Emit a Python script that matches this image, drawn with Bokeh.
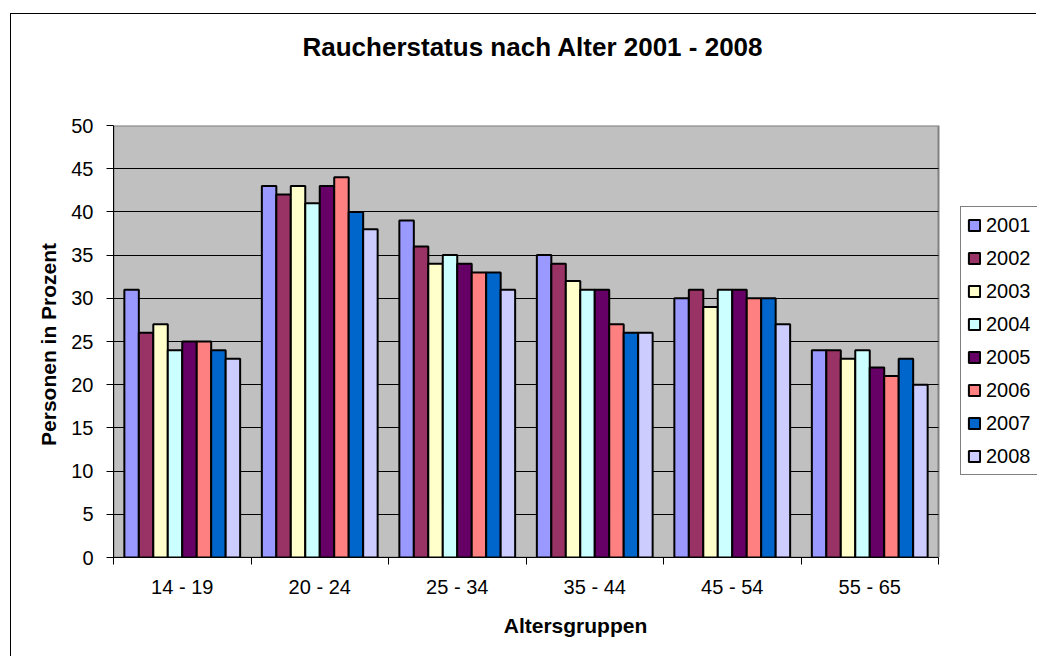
from bokeh.plotting import figure
from bokeh.models import (Range1d, LinearAxis, FixedTicker, Legend,
                          LegendItem, ColumnDataSource)
from bokeh.transform import dodge
from bokeh.embed import file_html
from bokeh.resources import INLINE

# ---- data ----
categories = ["14 - 19", "20 - 24", "25 - 34", "35 - 44", "45 - 54", "55 - 65"]
years = ["2001", "2002", "2003", "2004", "2005", "2006", "2007", "2008"]
v2001 = [31, 43, 39, 35, 30, 24]
v2002 = [26, 42, 36, 34, 31, 24]
v2003 = [27, 43, 34, 32, 29, 23]
v2004 = [24, 41, 35, 31, 31, 24]
v2005 = [25, 43, 34, 31, 31, 22]
v2006 = [25, 44, 33, 27, 30, 21]
v2007 = [24, 40, 33, 26, 30, 23]
v2008 = [23, 38, 31, 26, 27, 20]
colors = ["#9999FF", "#993366", "#FFFFCC", "#CCFFFF", "#660066", "#FF8080", "#0066CC", "#CCCCFF"]
y_ticks = [0, 5, 10, 15, 20, 25, 30, 35, 40, 45, 50]
title_text = "Raucherstatus nach Alter 2001 - 2008"

series = [v2001, v2002, v2003, v2004, v2005, v2006, v2007, v2008]
ncat = len(categories)
centers = [i + 0.5 for i in range(ncat)]
edges = [float(i) for i in range(ncat + 1)]
data = {"cat": categories, "xc": centers}
for y, s in zip(years, series):
    data["y" + y] = s
source = ColumnDataSource(data)

FONT = "Liberation Sans"
# layout (pixels)
W, H = 1026, 643
LEFT, TOP, BOTTOM = 102, 111, 100
PLOT_W = 825                       # width of the grey plot area
FRAME_W = W - LEFT                 # frame runs to the right edge (legend lives there)
x_end = ncat * FRAME_W / PLOT_W
y_min, y_max = y_ticks[0], y_ticks[-1]

p = figure(width=W, height=H,
           x_range=Range1d(0, x_end),
           y_range=Range1d(y_min, y_max),
           output_backend="svg", toolbar_location=None,
           x_axis_location=None,
           min_border_left=LEFT, min_border_right=0,
           min_border_top=TOP, min_border_bottom=BOTTOM)
p.styles = {"margin-left": "10px", "margin-top": "13px",
            "border-left": "1px solid black", "border-top": "1px solid black"}

p.background_fill_color = "white"
p.border_fill_color = "white"
p.outline_line_color = None

# title (outermost element above the frame)
p.title.text = title_text
p.title.align = "left"
p.title.offset = 189
p.title.standoff = 10
p.title.text_font = FONT
p.title.text_font_size = "26px"
p.title.text_font_style = "bold"
p.title.text_color = "black"

# spacer axis between title and plot area; its height comes from a blank label
sp = LinearAxis(ticker=FixedTicker(ticks=[]))
sp.axis_line_color = None
sp.major_tick_line_color = None
sp.minor_tick_line_color = None
sp.major_tick_out = 0
sp.major_tick_in = 0
sp.major_label_text_font_size = "0px"
sp.axis_label = "\u00a0"
sp.axis_label_text_font = FONT
sp.axis_label_text_font_size = "10px"
sp.axis_label_text_color = "white"
sp.axis_label_standoff = 45
p.add_layout(sp, "above")

# grey plot area
p.quad(left=[0], right=[ncat], bottom=[y_min], top=[y_max],
       fill_color="#C0C0C0", line_color="#808080", line_width=2, level="image")

# bars
n = len(years)
bw = 1.0 / (n + 1.5)
items = []
for i, (y, c) in enumerate(zip(years, colors)):
    off = (i - (n - 1) / 2.0) * bw
    r = p.vbar(x=dodge("xc", off), top="y" + y, width=bw,
               source=source, fill_color=c, line_color="black", line_width=2)
    items.append(LegendItem(label=y, renderers=[r]))

# y axis
yax = p.yaxis[0]
yax.ticker = FixedTicker(ticks=y_ticks)
yax.minor_tick_line_color = None
yax.major_tick_out = 7
yax.major_tick_in = 0
yax.major_tick_line_color = "black"
yax.axis_line_color = "black"
yax.major_label_standoff = 13
yax.major_label_text_font = FONT
yax.major_label_text_font_size = "20px"
yax.major_label_text_color = "black"
yax.axis_label = "Personen  in Prozent"
yax.axis_label_text_font = FONT
yax.axis_label_text_font_size = "21px"
yax.axis_label_text_font_style = "bold"
yax.axis_label_text_color = "black"
yax.axis_label_standoff = 8

# horizontal grid lines only across the plot area
g = p.ygrid[0]
g.ticker = FixedTicker(ticks=y_ticks[1:-1])
g.grid_line_color = "black"
g.grid_line_width = 1
if "cross_bounds" in g.properties():
    g.cross_bounds = (0, ncat)
else:
    g.visible = False
    p.segment(x0=0, x1=ncat, y0=y_ticks[1:-1], y1=y_ticks[1:-1],
              line_color="black", line_width=1, level="underlay")
p.xgrid.visible = False

# x axis: labels at category centres, tick marks at category boundaries
xax = LinearAxis(ticker=FixedTicker(ticks=centers, minor_ticks=edges),
                 bounds=(0, ncat),
                 major_label_overrides={c: lab for c, lab in zip(centers, categories)})
xax.major_tick_line_color = None
xax.minor_tick_line_color = "black"
xax.minor_tick_out = 7
xax.minor_tick_in = 0
xax.axis_line_color = "black"
xax.major_label_standoff = 11
xax.major_label_text_font = FONT
xax.major_label_text_font_size = "20px"
xax.major_label_text_color = "black"
xax.axis_label = "Altersgruppen"
xax.axis_label_text_font = FONT
xax.axis_label_text_font_size = "21px"
xax.axis_label_text_font_style = "bold"
xax.axis_label_text_color = "black"
xax.axis_label_standoff = 13
p.add_layout(xax, "below")

# legend (inside the frame, to the right of the grey plot area)
legend = Legend(items=items, location=(847, 82), orientation="vertical",
                border_line_color="black", border_line_width=1,
                background_fill_color="white", background_fill_alpha=1,
                label_text_font=FONT, label_text_font_size="20px",
                label_text_color="black",
                glyph_width=14, glyph_height=14, label_standoff=5,
                padding=6, spacing=9, label_height=24, margin=0)
p.add_layout(legend, "center")

open("out.html", "w").write(file_html(p, INLINE))
